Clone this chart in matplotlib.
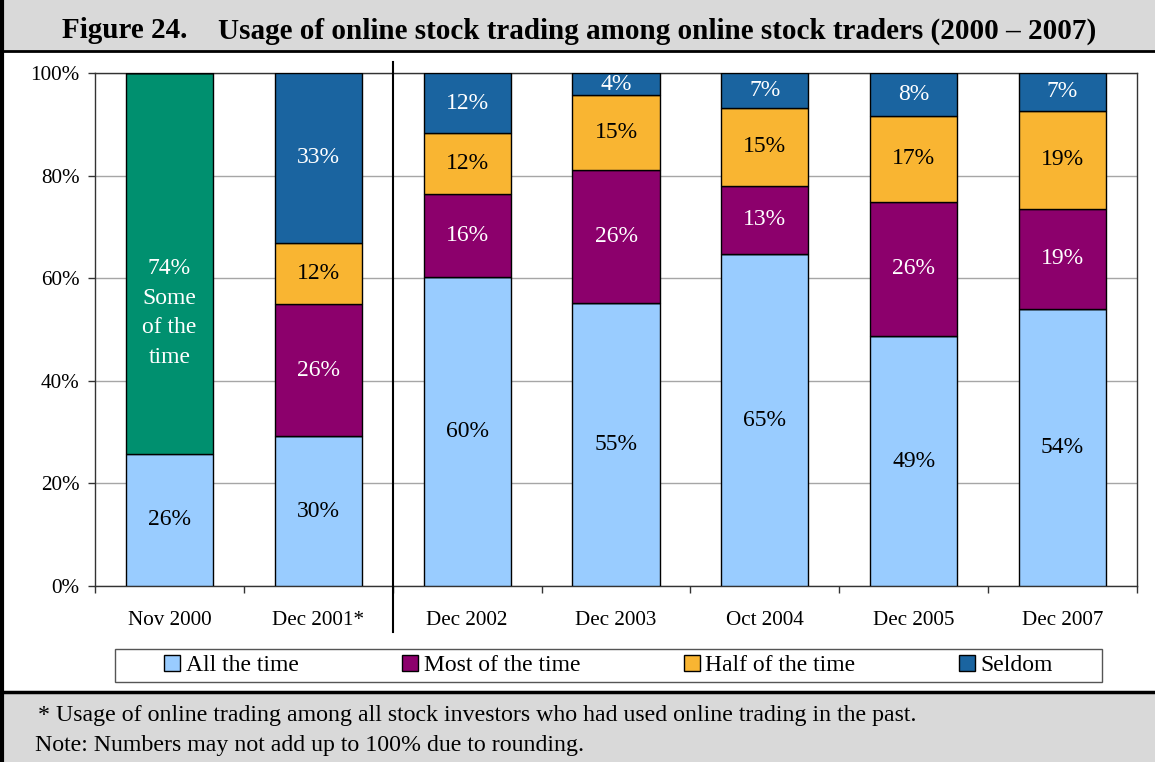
import matplotlib
matplotlib.use("Agg")
import matplotlib.pyplot as plt
from matplotlib.patches import Rectangle
from matplotlib.lines import Line2D
from matplotlib.transforms import blended_transform_factory
import numpy as np

plt.rcParams['font.family'] = ['Liberation Serif', 'DejaVu Serif']

# data (bar heights), plus the printed labels
periods = ["Nov 2000", "Dec 2001*", "Dec 2002", "Dec 2003", "Oct 2004", "Dec 2005", "Dec 2007"]
all_time = [25.8, 29.2, 60.2, 55.2, 64.7, 48.7, 54.0]
some_time = [74.2, 0, 0, 0, 0, 0, 0]
most_time = [0, 25.8, 16.2, 25.9, 13.3, 26.2, 19.5]
half_time = [0, 11.9, 11.9, 14.6, 15.2, 16.7, 19.1]
seldom = [0, 33.1, 11.7, 4.3, 6.8, 8.4, 7.4]

lbl_all = [26, 30, 60, 55, 65, 49, 54]
lbl_some = [74, None, None, None, None, None, None]
lbl_most = [None, 26, 16, 26, 13, 26, 19]
lbl_half = [None, 12, 12, 15, 15, 17, 19]
lbl_seldom = [None, 33, 12, 4, 7, 8, 7]

c_all = "#99ccff"
c_some = "#00906f"
c_most = "#8c006c"
c_half = "#f9b532"
c_seldom = "#1a64a0"

W, H = 1155, 762
fig = plt.figure(figsize=(W / 100, H / 100), dpi=100)

# gray title band and footer band
fig.patches.append(Rectangle((0, 1 - 51 / H), 1, 51 / H, transform=fig.transFigure,
                             facecolor="#d9d9d9", edgecolor="none", zorder=0))
fig.patches.append(Rectangle((0, 0), 1, 1 - 692 / H, transform=fig.transFigure,
                             facecolor="#d9d9d9", edgecolor="none", zorder=0))
fig.lines.append(Line2D([0, 1], [1 - 51 / H] * 2, transform=fig.transFigure, color="black", lw=2))
fig.lines.append(Line2D([0, 1], [1 - 692 / H] * 2, transform=fig.transFigure, color="black", lw=2.5))
fig.lines.append(Line2D([1.5 / W] * 2, [0, 1], transform=fig.transFigure, color="black", lw=3))

fig.text(62 / W, 1 - 31 / H, "Figure 24.", fontsize=21, fontweight="bold", va="center", ha="left")
fig.text(218 / W, 1 - 31 / H,
         "Usage of online stock trading among online stock traders (2000 \u2013 2007)",
         fontsize=21, fontweight="bold", va="center", ha="left")

fig.text(38 / W, 1 - 715 / H,
         "* Usage of online trading among all stock investors who had used online trading in the past.",
         fontsize=17.2, va="center", ha="left")
fig.text(35 / W, 1 - 746 / H, "Note: Numbers may not add up to 100% due to rounding.",
         fontsize=17.2, va="center", ha="left")

ax = fig.add_axes([95 / W, 1 - 586 / H, 1042 / W, 513 / H])
x = np.arange(len(periods))
bw = 0.585

series = [
    (all_time, c_all, lbl_all, "black", "All the time"),
    (some_time, c_some, lbl_some, "white", None),
    (most_time, c_most, lbl_most, "white", "Most of the time"),
    (half_time, c_half, lbl_half, "black", "Half of the time"),
    (seldom, c_seldom, lbl_seldom, "white", "Seldom"),
]

bottom = np.zeros(len(periods))
handles = []
for vals, col, lbls, tcol, name in series:
    vals = np.array(vals, dtype=float)
    bars = ax.bar(x, vals, bw, bottom=bottom, color=col, edgecolor="black", linewidth=1, zorder=3)
    for i, lab in enumerate(lbls):
        if lab is None:
            continue
        mid = bottom[i] + vals[i] / 2
        if col == c_some:
            ax.annotate(f"{lab}%\nSome\nof the\ntime", (x[i], mid), xytext=(0, 4),
                        textcoords="offset points", ha="center", va="top",
                        color=tcol, fontsize=17, linespacing=1.55, zorder=4)
        else:
            ax.text(x[i], mid, f"{lab}%", ha="center", va="center", color=tcol,
                    fontsize=17, zorder=4)
    if name is not None:
        handles.append((bars, name))
    bottom += vals

ax.set_xlim(-0.5, len(periods) - 0.5)
ax.set_ylim(0, 100)
ax.set_yticks([0, 20, 40, 60, 80, 100])
ax.set_yticklabels([f"{v}%" for v in [0, 20, 40, 60, 80, 100]])
ax.yaxis.grid(True, color="#a6a6a6", lw=1, zorder=0)
ax.set_axisbelow(True)
ax.set_xticks(x)
ax.set_xticklabels(periods)
ax.set_xticks(np.arange(-0.5, len(periods)), minor=True)
ax.tick_params(axis="x", which="major", length=0, pad=18, labelsize=15.2)
ax.tick_params(axis="x", which="minor", length=5, width=1, direction="out", color="#333333")
ax.tick_params(axis="y", length=5, width=1, direction="out", pad=6, labelsize=15.2, color="#333333")
for s in ax.spines.values():
    s.set_color("#333333")
    s.set_linewidth(1)

# separator between Dec 2001 and Dec 2002
tr = blended_transform_factory(ax.transData, ax.transAxes)
ax.add_line(Line2D([1.5, 1.5], [1.0214, -0.0897], transform=tr, color="black",
                   lw=1.5, clip_on=False, zorder=5))

# legend box
fig.patches.append(Rectangle((115 / W, 1 - 682 / H), 987 / W, 33 / H, transform=fig.transFigure,
                             facecolor="white", edgecolor="#555555", lw=1, zorder=1))
leg = fig.legend([h for h, n in handles], [n for h, n in handles], loc="center",
                 bbox_to_anchor=(608.5 / W, 1 - 665.5 / H), ncol=4, frameon=False,
                 fontsize=17, handlelength=0.68, handleheight=0.68, handletextpad=0.25,
                 columnspacing=4.37, borderpad=0)

fig.savefig("out.png", dpi=100)
